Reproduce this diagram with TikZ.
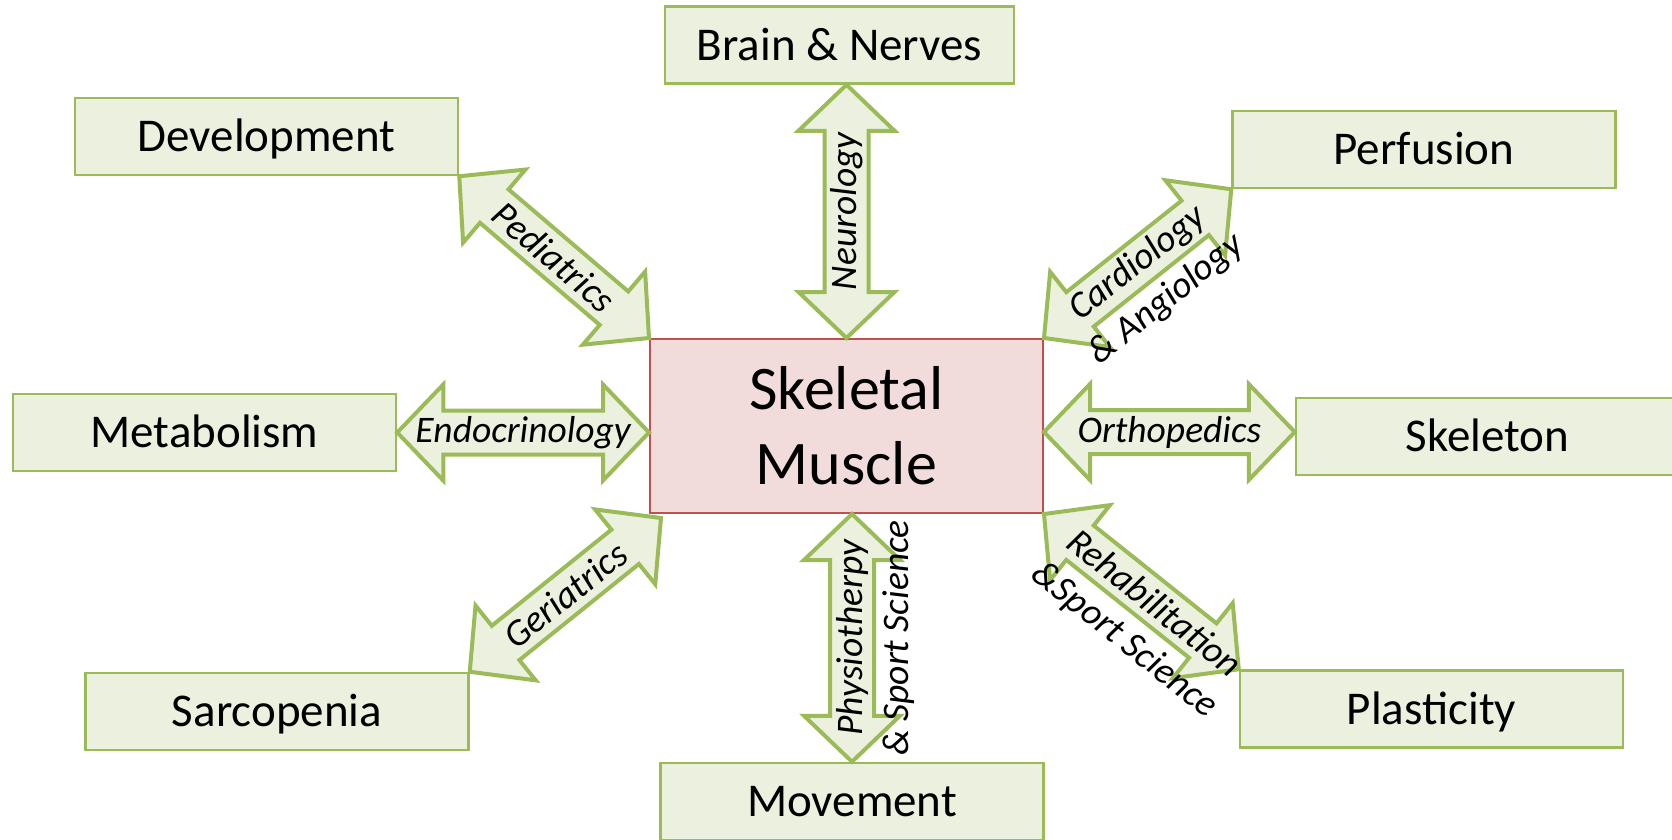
\documentclass[tikz,border=0pt]{standalone}
\usepackage{fontspec}
\setmainfont{Carlito}
\usetikzlibrary{calc}

\definecolor{leafline}{HTML}{9BBB59}
\definecolor{leaffill}{HTML}{EBF1DE}
\definecolor{coreline}{HTML}{C0504D}
\definecolor{corefill}{HTML}{F2DCDB}

\tikzset{
  topic/.style={draw=leafline, fill=leaffill, line width=2.5pt, minimum width=383pt,
    minimum height=77pt, inner sep=0pt, font=\fontsize{47}{56}\selectfont,
    text height=30pt, text depth=0pt},
  core/.style={draw=coreline, fill=corefill, line width=2pt, minimum width=393pt,
    minimum height=174pt, inner sep=0pt, align=center, font=\fontsize{62}{75}\selectfont},
  twoway/.style={draw=leafline, fill=leaffill, line width=4pt, line join=miter},
  lbl/.style={inner sep=0pt, font=\fontsize{37.5}{46}\selectfont\itshape},
}

\newcommand{\headlen}{46pt}
\newcommand{\headwd}{48pt}
\newcommand{\shaftwd}{22pt}

% block arrow with a head at each end, label along it
\newcommand{\twoway}[4][]{%
  \draw[twoway] (#2)
    -- ($(#2)!\headlen!(#3)!\headwd!90:(#3)$)
    -- ($(#2)!\headlen!(#3)!\shaftwd!90:(#3)$)
    -- ($(#3)!\headlen!(#2)!\shaftwd!-90:(#2)$)
    -- ($(#3)!\headlen!(#2)!\headwd!-90:(#2)$)
    -- (#3)
    -- ($(#3)!\headlen!(#2)!\headwd!90:(#2)$)
    -- ($(#3)!\headlen!(#2)!\shaftwd!90:(#2)$)
    -- ($(#2)!\headlen!(#3)!\shaftwd!-90:(#3)$)
    -- ($(#2)!\headlen!(#3)!\headwd!-90:(#3)$)
    -- cycle;
  \path (#2) -- (#3) node[lbl, midway, sloped, #1] {#4};}

% first line on the arrow, second line hangs below it
\newcommand{\twoline}[2]{\vphantom{#1}\smash{\begin{tabular}[t]{@{}c@{}}#1\\#2\end{tabular}}}

\begin{document}
\begin{tikzpicture}[x=1pt, y=-1pt]
  \useasboundingbox (0,0) rectangle (1672,839);
  % Centre
  \node[core] (sm) at (846.5,426) {Skeletal\\Muscle};
  % Surrounding topics
  \node[topic, minimum width=349pt] (brain) at (839.5,45) {Brain \& Nerves};
  \node[topic] (dev) at (266.5,136.5) {Development};
  \node[topic] (perf) at (1424,149.5) {Perfusion};
  \node[topic] (metab) at (204.5,432.5) {Metabolism};
  \node[topic] (skel) at (1487.5,436.5) {Skeleton};
  \node[topic] (sarc) at (277,711.5) {Sarcopenia};
  \node[topic] (plast) at (1431.5,709) {Plasticity};
  \node[topic] (move) at (852,801.5) {Movement};
  % Arrow ends
  \coordinate (neuro-a) at (sm.north);
  \coordinate (neuro-b) at (sm.north |- brain.south);
  \coordinate (physio-a) at (move.north);
  \coordinate (physio-b) at (move.north |- sm.south);
  \coordinate (endo-b) at (metab.east -| sm.west);
  \coordinate (ortho-a) at ([yshift=-6pt]sm.east);
  \coordinate (ortho-b) at (ortho-a -| skel.west);
  \coordinate (geri-b) at ([shift={(12,4)}]sm.south west);
  % Specialties
  \twoway{neuro-a}{neuro-b}{Neurology}
  \twoway{dev.south east}{sm.north west}{Pediatrics}
  \twoway{sm.north east}{perf.south west}{\twoline{Cardiology}{\& Angiology}}
  \twoway{metab.east}{endo-b}{Endocrinology}
  \twoway{ortho-a}{ortho-b}{Orthopedics}
  \twoway{sarc.north east}{geri-b}{Geriatrics}
  \twoway{physio-a}{physio-b}{\twoline{Physiotherpy}{\& Sport Science}}
  \twoway[pos=0.57]{sm.south east}{plast.north west}{\twoline{Rehabilitation}{\&Sport Science}}
\end{tikzpicture}
\end{document}
